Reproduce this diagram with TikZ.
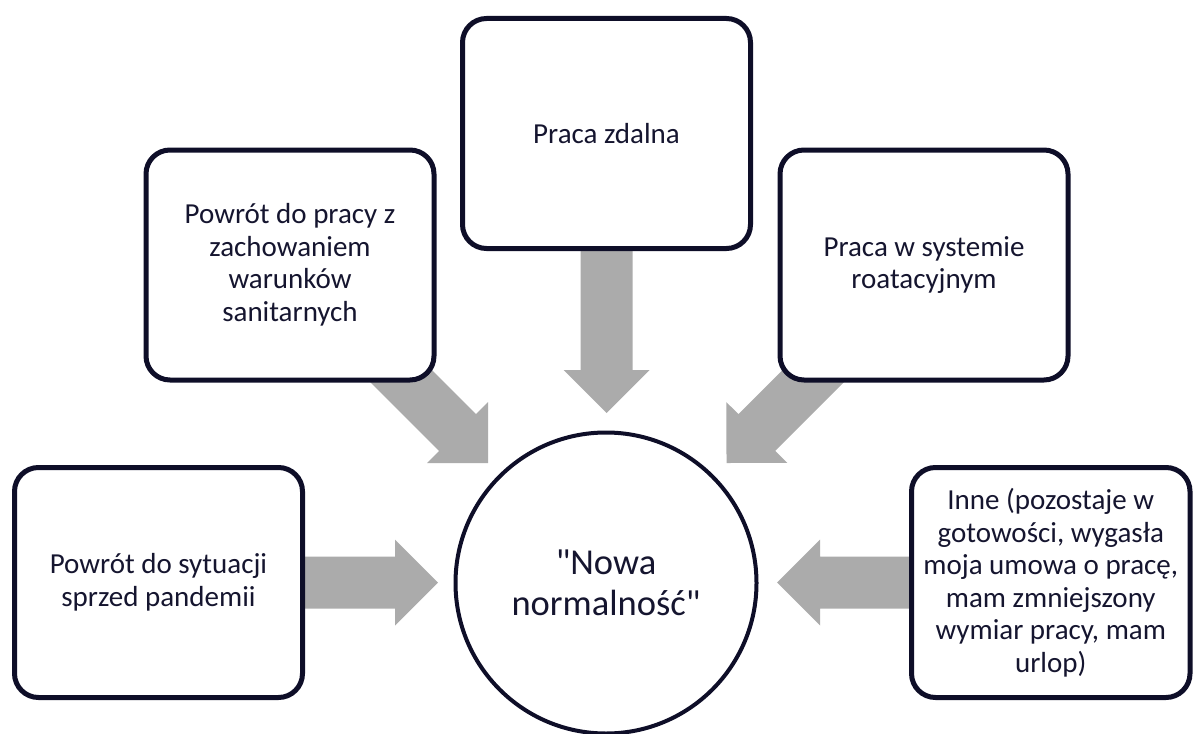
\documentclass[tikz,border=0pt]{standalone}
\usepackage{fontspec}
\setmainfont{Carlito}
\newfontfamily\hubfont{Carlito}
\usetikzlibrary{calc,backgrounds}
\definecolor{navy}{HTML}{0E0E28}
\definecolor{txt}{HTML}{15152F}
\definecolor{arrowgray}{HTML}{ABABAB}
\newcommand\blockarr[2]{%
  \coordinate (hb) at ($(#2)!43pt!(#1)$);
  \fill[arrowgray] ($(#1)!26pt!90:(#2)$) -- ($(hb)!26pt!90:(#2)$) -- ($(hb)!43pt!90:(#2)$)
    -- (#2) -- ($(hb)!43pt!-90:(#2)$) -- ($(hb)!26pt!-90:(#2)$) -- ($(#1)!26pt!-90:(#2)$) -- cycle;}
\begin{document}
\begin{tikzpicture}[x=1pt,y=-1pt,
  box/.style={draw=navy,line width=5pt,fill=white,rounded corners=24pt,
    minimum width=288pt,minimum height=230pt,inner sep=0pt,align=center,
    text=txt,font=\fontsize{29}{32.5}\selectfont},
  hub/.style={draw=navy,line width=4pt,fill=white,circle,minimum size=301pt,inner sep=0pt,
    align=center,text=txt,font=\hubfont\fontsize{36.5}{41.5}\selectfont}]
\useasboundingbox (0,0) rectangle (1193,733);
\clip (0,0) rectangle (1193,733);
\node[hub] (hub) at (606,583) {"Nowa\\normalność"};
\node[box] (bl) at (158.5,582.5) {Powrót do sytuacji\\sprzed pandemii};
\node[box] (ul) at (290,265) {Powrót do pracy z\\zachowaniem\\warunków\\sanitarnych};
\node[box] (top) at (606.5,133.5) {Praca zdalna};
\node[box] (ur) at (924,265) {Praca w systemie\\roatacyjnym};
\node[box,minimum width=278.5pt] (br) at (1050.75,582.5) {Inne (pozostaje w\\gotowości, wygasła\\moja umowa o pracę,\\mam zmniejszony\\wymiar pracy, mam\\urlop)};
\coordinate (tl) at (438,582.5);
\coordinate (tr) at (777,582.5);
\coordinate (tt) at (606.5,413);
\coordinate (tul) at (488,463);
\coordinate (tur) at (726.5,463);
\begin{scope}[on background layer]
\blockarr{bl.center}{tl}
\blockarr{br.center}{tr}
\blockarr{top.center}{tt}
\blockarr{ul.center}{tul}
\blockarr{ur.center}{tur}
\end{scope}
\end{tikzpicture}
\end{document}
